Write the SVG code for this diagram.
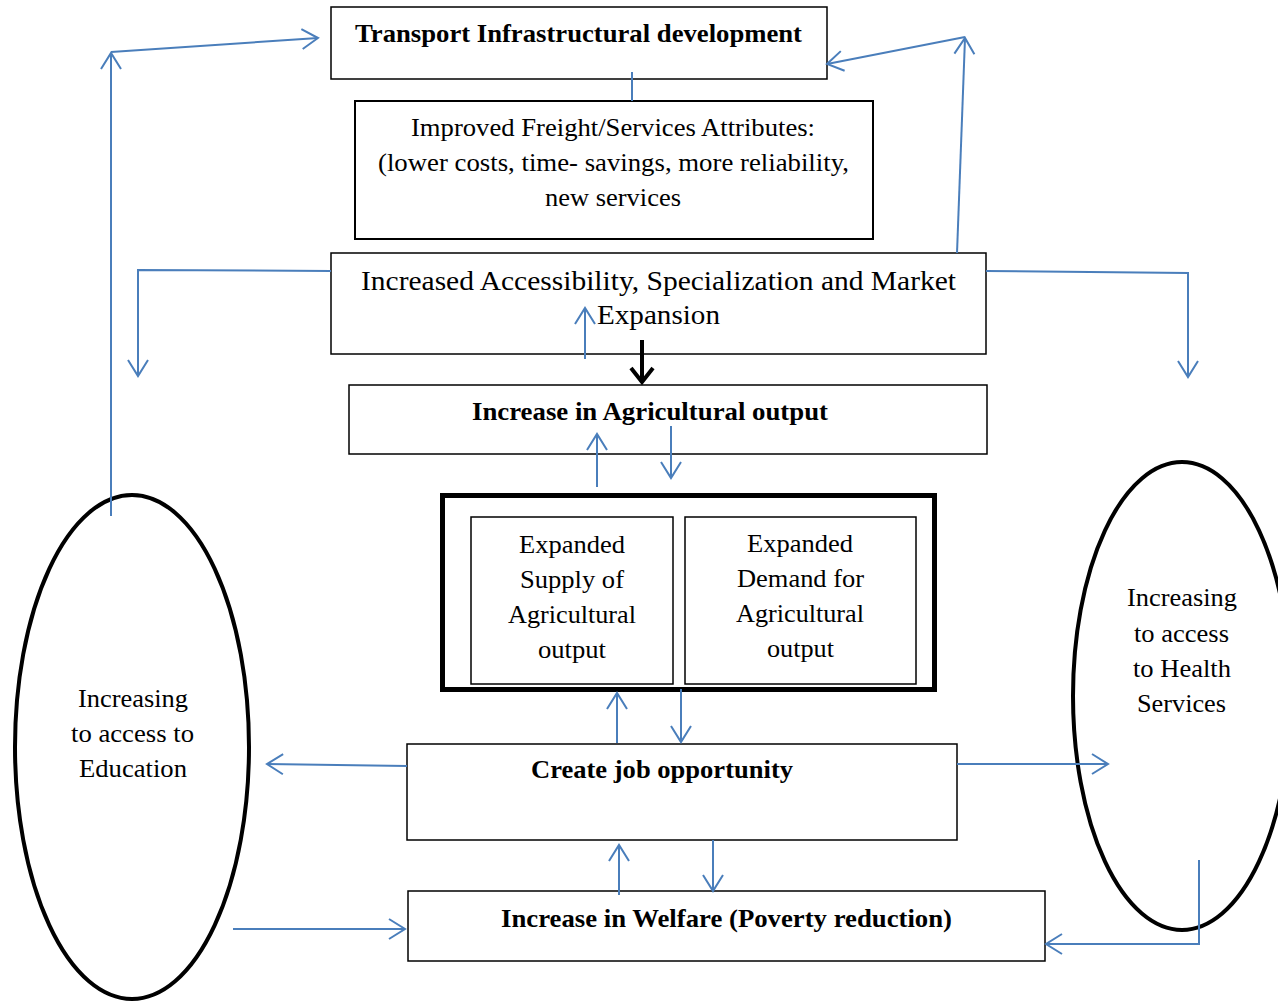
<svg xmlns="http://www.w3.org/2000/svg" width="1278" height="1001" viewBox="0 0 1278 1001">
<style>
.box{fill:#fff;stroke:#000;stroke-width:1.5}
.t{font-family:"Liberation Serif","Times New Roman",serif;fill:#000;font-size:25px}
.b{font-weight:bold;font-size:26px}
.c{fill:none;stroke:#4A7EBB;stroke-width:2}
.ell{fill:none;stroke:#000;stroke-width:4}
</style>
<defs>
<marker id="ah" markerUnits="userSpaceOnUse" markerWidth="20" markerHeight="24" refX="0" refY="0" viewBox="-18 -12 20 24" orient="auto" overflow="visible">
<path d="M-16,-10 L0,0 L-16,10" fill="none" stroke="#4A7EBB" stroke-width="2"/>
</marker>
<marker id="bh" markerUnits="userSpaceOnUse" markerWidth="24" markerHeight="28" refX="0" refY="0" viewBox="-18 -14 20 28" orient="auto" overflow="visible">
<path d="M-14,-11 L0,0 L-14,11" fill="none" stroke="#000" stroke-width="4"/>
</marker>
</defs>
<rect width="1278" height="1001" fill="#fff"/>

<g id="n-transport">
<rect class="box" x="331" y="7" width="496" height="72"/>
<text class="t b" x="355" y="42" textLength="447" lengthAdjust="spacingAndGlyphs">Transport Infrastructural development</text>
</g>
<g id="n-improved">
<rect class="box" x="355" y="101" width="518" height="138" style="stroke-width:2"/>
<text class="t" x="411" y="136" textLength="404" lengthAdjust="spacingAndGlyphs">Improved Freight/Services Attributes:</text>
<text class="t" x="378" y="171" textLength="471" lengthAdjust="spacingAndGlyphs">(lower costs, time- savings, more reliability,</text>
<text class="t" x="545" y="206" textLength="136" lengthAdjust="spacingAndGlyphs">new services</text>
</g>
<g id="n-access">
<rect class="box" x="331" y="253" width="655" height="101"/>
<text class="t" x="361" y="290" textLength="595" lengthAdjust="spacingAndGlyphs" style="font-size:27px">Increased Accessibility, Specialization and Market</text>
<text class="t" x="597" y="324" textLength="123" lengthAdjust="spacingAndGlyphs" style="font-size:27px">Expansion</text>
</g>
<g id="n-agri">
<rect class="box" x="349" y="385" width="638" height="69"/>
<text class="t b" x="472" y="420" textLength="356" lengthAdjust="spacingAndGlyphs">Increase in Agricultural output</text>
</g>
<g id="n-expanded">
<rect x="442.5" y="495.5" width="492" height="194" fill="#fff" stroke="#000" stroke-width="5"/>
</g>
<g id="n-supply">
<rect class="box" x="471" y="517" width="202" height="167"/>
<text class="t" x="519" y="553" textLength="106" lengthAdjust="spacingAndGlyphs">Expanded</text>
<text class="t" x="520" y="588" textLength="104" lengthAdjust="spacingAndGlyphs">Supply of</text>
<text class="t" x="508" y="623" textLength="128" lengthAdjust="spacingAndGlyphs">Agricultural</text>
<text class="t" x="538" y="658" textLength="68" lengthAdjust="spacingAndGlyphs">output</text>
</g>
<g id="n-demand">
<rect class="box" x="685" y="517" width="231" height="167"/>
<text class="t" x="747" y="552" textLength="106" lengthAdjust="spacingAndGlyphs">Expanded</text>
<text class="t" x="737" y="587" textLength="127" lengthAdjust="spacingAndGlyphs">Demand for</text>
<text class="t" x="736" y="622" textLength="128" lengthAdjust="spacingAndGlyphs">Agricultural</text>
<text class="t" x="767" y="657" textLength="67" lengthAdjust="spacingAndGlyphs">output</text>
</g>
<g id="n-job">
<rect class="box" x="407" y="744" width="550" height="96"/>
<text class="t b" x="531" y="778" textLength="262" lengthAdjust="spacingAndGlyphs">Create job opportunity</text>
</g>
<g id="n-welfare">
<rect class="box" x="408" y="891" width="637" height="70"/>
<text class="t b" x="501" y="927" textLength="451" lengthAdjust="spacingAndGlyphs">Increase in Welfare (Poverty reduction)</text>
</g>
<g id="n-education">
<ellipse class="ell" cx="132" cy="747" rx="117" ry="252"/>
<text class="t" x="78" y="707" textLength="110" lengthAdjust="spacingAndGlyphs">Increasing</text>
<text class="t" x="71" y="742" textLength="123" lengthAdjust="spacingAndGlyphs">to access to</text>
<text class="t" x="79" y="777" textLength="108" lengthAdjust="spacingAndGlyphs">Education</text>
</g>
<g id="n-health">
<ellipse class="ell" cx="1182" cy="696" rx="109" ry="234"/>
<text class="t" x="1127" y="606" textLength="110" lengthAdjust="spacingAndGlyphs">Increasing</text>
<text class="t" x="1134" y="642" textLength="95" lengthAdjust="spacingAndGlyphs">to access</text>
<text class="t" x="1133" y="677" textLength="98" lengthAdjust="spacingAndGlyphs">to Health</text>
<text class="t" x="1137" y="712" textLength="89" lengthAdjust="spacingAndGlyphs">Services</text>
</g>

<g id="connectors">
<line class="c" x1="632" y1="72" x2="632" y2="101"/>
<line class="c" x1="111" y1="516" x2="111" y2="53" marker-end="url(#ah)"/>
<line class="c" x1="111" y1="52" x2="318" y2="38" marker-end="url(#ah)"/>
<line class="c" x1="957" y1="253" x2="965" y2="38" marker-end="url(#ah)"/>
<line class="c" x1="965" y1="37" x2="827" y2="64" marker-end="url(#ah)"/>
<polyline class="c" points="331,271 138,270 138,376" marker-end="url(#ah)"/>
<polyline class="c" points="986,271 1188,273 1188,377" marker-end="url(#ah)"/>
<line class="c" x1="585" y1="359" x2="585" y2="308" marker-end="url(#ah)"/>
<line x1="642" y1="340" x2="642" y2="382" stroke="#000" stroke-width="4" marker-end="url(#bh)"/>
<line class="c" x1="597" y1="487" x2="597" y2="434" marker-end="url(#ah)"/>
<line class="c" x1="671" y1="426" x2="671" y2="478" marker-end="url(#ah)"/>
<line class="c" x1="617" y1="743" x2="617" y2="693" marker-end="url(#ah)"/>
<line class="c" x1="681" y1="689" x2="681" y2="742" marker-end="url(#ah)"/>
<line class="c" x1="407" y1="766" x2="267" y2="764" marker-end="url(#ah)"/>
<line class="c" x1="957" y1="764" x2="1108" y2="764" marker-end="url(#ah)"/>
<line class="c" x1="619" y1="895" x2="619" y2="845" marker-end="url(#ah)"/>
<line class="c" x1="713" y1="840" x2="713" y2="891" marker-end="url(#ah)"/>
<line class="c" x1="233" y1="929" x2="405" y2="929" marker-end="url(#ah)"/>
<polyline class="c" points="1199,860 1199,944 1046,944" marker-end="url(#ah)"/>
</g>
</svg>
